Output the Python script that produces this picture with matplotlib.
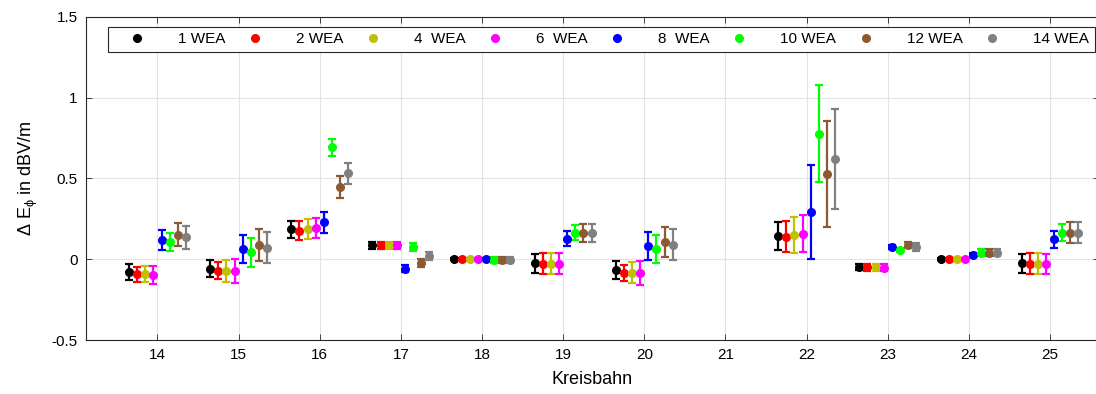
import numpy as np
import matplotlib
matplotlib.use('Agg')
import matplotlib.pyplot as plt
from matplotlib.lines import Line2D

plt.rcParams['font.family'] = ['Liberation Sans', 'DejaVu Sans']
plt.rcParams['mathtext.fontset'] = 'custom'
plt.rcParams['mathtext.rm'] = 'Liberation Sans'
plt.rcParams['mathtext.it'] = 'Liberation Sans'

# Kreisbahnen (no measurement on 21)
kreisbahn = [14, 15, 16, 17, 18, 19, 20, 21, 22, 23, 24, 25]
nan = np.nan

labels = ['1 WEA', '2 WEA', '4  WEA', '6  WEA', '8  WEA', '10 WEA', '12 WEA', '14 WEA']
colors = ['#000000', '#ff0000', '#c0c000', '#ff00ff', '#0000ff', '#00ff00', '#8c5a32', '#808080']

# mean deviation per Kreisbahn
wea1 = [-0.079, -0.058, 0.186, 0.087, 0.0, -0.025, -0.068, nan, 0.145, -0.048, 0.0, -0.025]
wea2 = [-0.093, -0.072, 0.176, 0.087, 0.0, -0.027, -0.083, nan, 0.140, -0.050, 0.0, -0.029]
wea4 = [-0.093, -0.072, 0.188, 0.087, 0.0, -0.027, -0.083, nan, 0.150, -0.050, 0.0, -0.029]
wea6 = [-0.097, -0.074, 0.192, 0.087, 0.0, -0.027, -0.083, nan, 0.159, -0.052, 0.0, -0.029]
wea8 = [0.120, 0.066, 0.229, -0.058, 0.0, 0.128, 0.083, nan, 0.295, 0.078, 0.027, 0.124]
wea10 = [0.107, 0.043, 0.694, 0.076, -0.006, 0.165, 0.062, nan, 0.776, 0.058, 0.041, 0.165]
wea12 = [0.153, 0.087, 0.448, -0.025, -0.005, 0.163, 0.107, nan, 0.527, 0.089, 0.041, 0.164]
wea14 = [0.136, 0.072, 0.531, 0.019, -0.006, 0.163, 0.091, nan, 0.620, 0.076, 0.041, 0.164]

# half width of the error bars
err1 = [0.048, 0.053, 0.052, 0.022, 0.005, 0.058, 0.055, nan, 0.085, 0.020, 0.005, 0.059]
err2 = [0.047, 0.052, 0.059, 0.022, 0.005, 0.065, 0.050, nan, 0.095, 0.020, 0.005, 0.065]
err4 = [0.050, 0.066, 0.062, 0.022, 0.005, 0.065, 0.066, nan, 0.110, 0.020, 0.005, 0.065]
err6 = [0.057, 0.074, 0.062, 0.022, 0.005, 0.066, 0.074, nan, 0.116, 0.020, 0.005, 0.064]
err8 = [0.063, 0.087, 0.064, 0.022, 0.005, 0.045, 0.085, nan, 0.291, 0.012, 0.010, 0.052]
err10 = [0.058, 0.090, 0.052, 0.022, 0.018, 0.047, 0.088, nan, 0.300, 0.012, 0.020, 0.051]
err12 = [0.071, 0.100, 0.068, 0.025, 0.020, 0.057, 0.093, nan, 0.330, 0.018, 0.020, 0.064]
err14 = [0.070, 0.098, 0.067, 0.025, 0.020, 0.057, 0.098, nan, 0.310, 0.024, 0.020, 0.064]

means = [wea1, wea2, wea4, wea6, wea8, wea10, wea12, wea14]
errs = [err1, err2, err4, err6, err8, err10, err12, err14]

fig = plt.figure(figsize=(10.96, 3.94), dpi=100)
ax = fig.add_axes([0.0785, 0.137, 0.924, 0.82])

x = np.array(kreisbahn, dtype=float)
offsets = np.linspace(-0.35, 0.35, 8)
handles = []
for i in range(8):
    ax.errorbar(x + offsets[i], means[i], yerr=errs[i], fmt='o', color=colors[i],
                ms=5.5, elinewidth=1.6, capsize=3.2, capthick=1.6, zorder=3)
    handles.append(Line2D([], [], ls='none', marker='o', ms=5.5, color=colors[i]))

ax.set_xlim(13.12, 25.6)
ax.set_ylim(-0.5, 1.5)
ax.set_xticks(kreisbahn)
ax.set_yticks([-0.5, 0, 0.5, 1, 1.5])
ax.set_yticklabels(['-0.5', '0', '0.5', '1', '1.5'])
ax.grid(True, color='#e3e3e3', linewidth=0.8, zorder=0)
ax.set_axisbelow(True)
ax.tick_params(direction='in', length=4, width=0.6, colors='#262626',
               labelsize=11, top=True, right=True, labelcolor='black', pad=6)
for s in ax.spines.values():
    s.set_color('#262626')
    s.set_linewidth(0.8)

ax.set_xlabel('Kreisbahn', fontsize=13, labelpad=6)
ax.set_ylabel(r'$\Delta$ E$_\phi$ in dBV/m', fontsize=13, labelpad=8)

leg = ax.legend(handles, labels, ncol=8, loc='lower left', mode='expand',
                bbox_to_anchor=(0.022, 0.892, 0.974, 0.083), fontsize=11,
                frameon=True, fancybox=False, handlelength=3.0, handletextpad=1.2,
                borderaxespad=0, borderpad=0.35)
leg.get_frame().set_edgecolor('#262626')
leg.get_frame().set_linewidth(0.8)
leg.get_frame().set_alpha(1)

fig.savefig('out.png', dpi=100)
